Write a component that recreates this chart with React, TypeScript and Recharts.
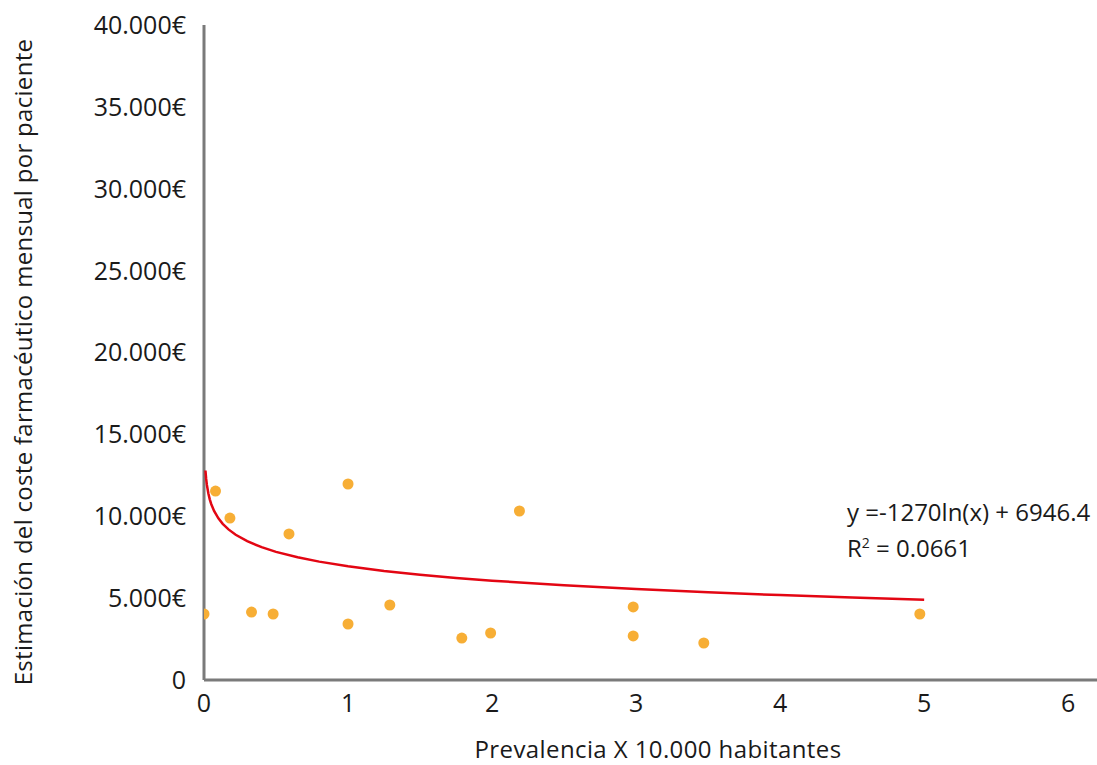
import React from "react";
import {
  ScatterChart,
  Scatter,
  XAxis,
  YAxis,
} from "recharts";

// observed points: prevalence x 10.000 inhabitants vs monthly cost per patient (€)
const prevalence = [0, 0.08, 0.18, 0.33, 0.48, 0.59, 1, 1, 1.29, 1.79, 1.99, 2.19, 2.98, 2.98, 3.47, 4.97];
const cost = [4030, 11540, 9890, 4150, 4030, 8920, 11970, 3420, 4580, 2560, 2870, 10320, 4460, 2690, 2260, 4030];

// logarithmic trendline as printed on the chart: y = -1270 ln(x) + 6946.4
const trendA = -1270;
const trendB = 6946.4;
const trendX = [0.01, 0.015, 0.02, 0.03, 0.04, 0.05, 0.07, 0.1, 0.13, 0.17, 0.22, 0.3, 0.4, 0.5, 0.65, 0.8, 1, 1.25, 1.5, 1.75, 2, 2.5, 3, 3.5, 4, 4.5, 5];

const xTicks = [0, 1, 2, 3, 4, 5, 6];
const yTicks = [0, 5000, 10000, 15000, 20000, 25000, 30000, 35000, 40000];

const points = prevalence.map((x, i) => ({ x, y: cost[i] }));
const trend = trendX.map((x) => ({ x, y: trendA * Math.log(x) + trendB }));

const font = "'Open Sans', sans-serif";
const textColor = "#1a1a1a";
const axisColor = "#7a7a7a";
const dotColor = "#f7ae35";

const formatEuro = (v: number) => (v === 0 ? "0" : `${v / 1000}.000€`);

const Dot = (props: any) => (
  <circle cx={props.cx} cy={props.cy} r={5.5} fill={dotColor} />
);

export default function App() {
  return (
    <div style={{ position: "absolute", left: 0, top: 0, width: 1097, height: 765, background: "#fff", fontFamily: font }}>
      <ScatterChart
        width={1097}
        height={765}
        margin={{ top: 25, right: 0, bottom: 0, left: 10 }}
      >
        <XAxis
          type="number"
          dataKey="x"
          domain={[0, 6.2]}
          ticks={xTicks}
          allowDataOverflow
          tickLine={false}
          tickMargin={8}
          height={85}
          stroke={axisColor}
          strokeWidth={3}
          tick={{ fill: textColor, fontSize: 25, fontFamily: font }}
          label={() => (
            <text x={658} y={758} textAnchor="middle" fill={textColor} fontSize={24} letterSpacing={0.4} fontFamily={font}>
              Prevalencia X 10.000 habitantes
            </text>
          )}
        />
        <YAxis
          type="number"
          dataKey="y"
          domain={[0, 40000]}
          ticks={yTicks}
          tickLine={false}
          tickMargin={12}
          width={194}
          stroke={axisColor}
          strokeWidth={3}
          tickFormatter={formatEuro}
          tick={{ fill: textColor, fontSize: 25, fontFamily: font }}
          label={() => (
            <text
              transform="translate(32,362) rotate(-90)"
              textAnchor="middle"
              fill={textColor}
              fontSize={24}
              letterSpacing={0.3}
              fontFamily={font}
            >
              Estimación del coste farmacéutico mensual por paciente
            </text>
          )}
        />
        <Scatter
          data={trend}
          line={{ stroke: "#e30613", strokeWidth: 2.5 }}
          lineType="joint"
          shape={() => <g />}
          isAnimationActive={false}
        />
        <Scatter data={points} fill={dotColor} shape={Dot} isAnimationActive={false} />
      </ScatterChart>
      <div
        style={{
          position: "absolute",
          left: 847,
          top: 494,
          fontSize: 24,
          lineHeight: "36px",
          color: textColor,
          fontFamily: font,
          whiteSpace: "nowrap",
        }}
      >
        <div>y =-1270ln(x) + 6946.4</div>
        <div>
          R<sup style={{ fontSize: 14, verticalAlign: "9px", lineHeight: 0 }}>2</sup> = 0.0661
        </div>
      </div>
    </div>
  );
}
